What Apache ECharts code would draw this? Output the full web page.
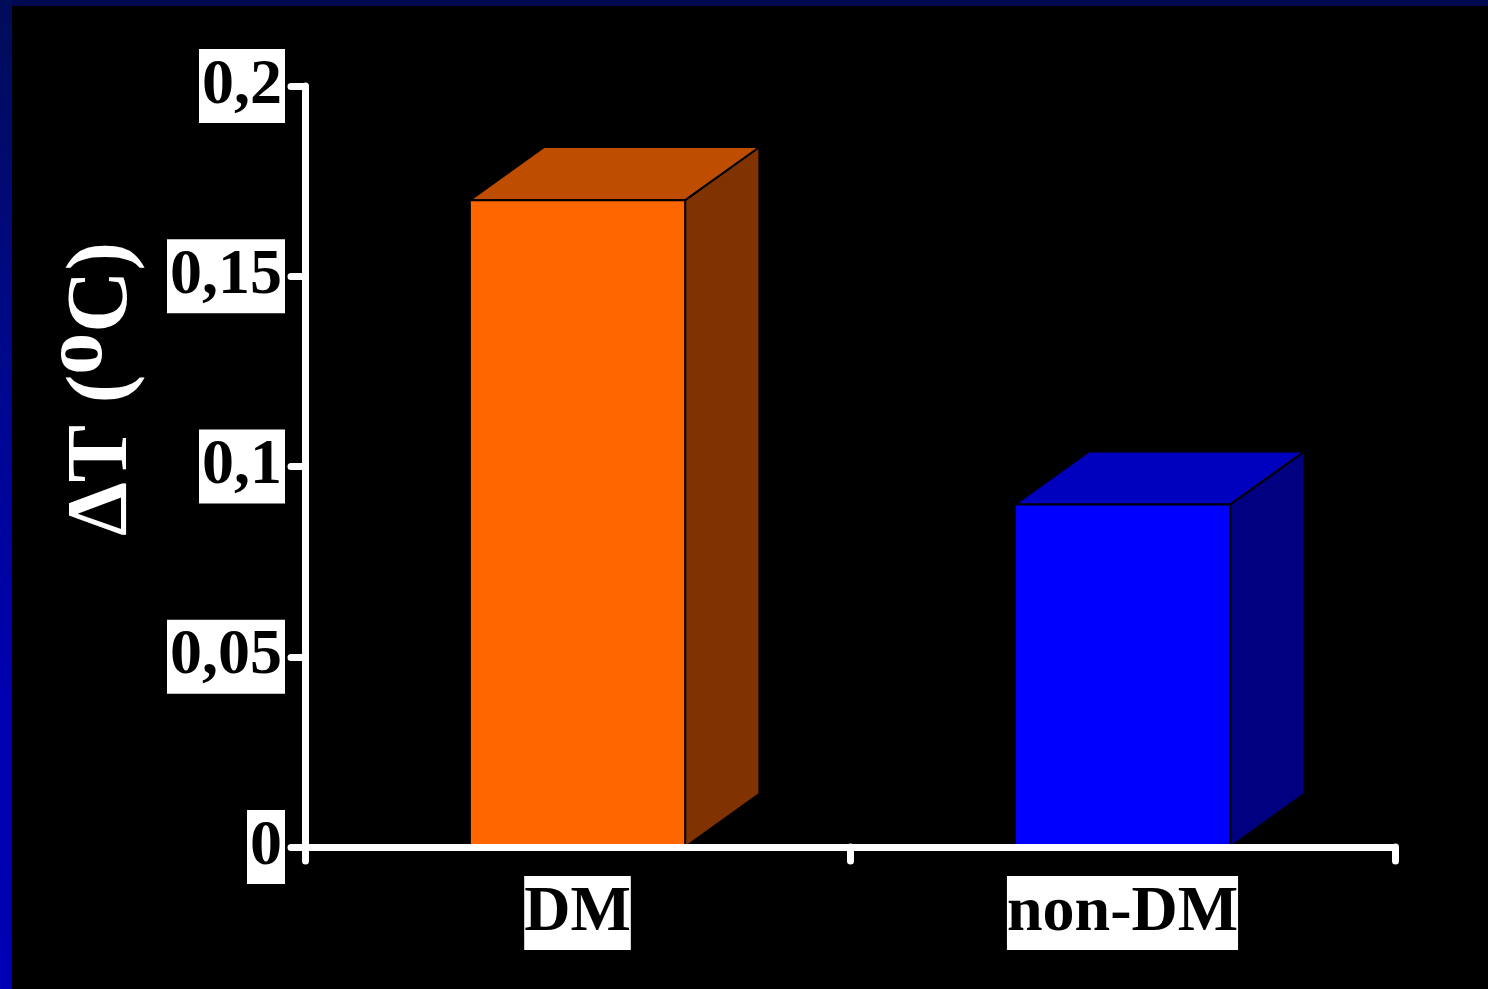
<!DOCTYPE html>
<html>
<head>
<meta charset="utf-8">
<script src="https://cdn.jsdelivr.net/npm/echarts@6/dist/echarts.min.js"></script>
<style>
  html, body { margin: 0; padding: 0; background: #000; }
  #frame { position: relative; width: 1488px; height: 989px; overflow: hidden; background: #000; }
  #topBand { position: absolute; left: 0; top: 0; width: 1488px; height: 6px; background: #00084f; }
  #leftBand { position: absolute; left: 0; top: 0; width: 12px; height: 989px;
              background: linear-gradient(to bottom, #000c58 0%, #00088a 35%, #0000b0 70%, #0000b4 100%); }
  #chart { position: absolute; left: 0; top: 0; width: 1488px; height: 989px; }
</style>
</head>
<body>
<div id="frame">
  <div id="topBand"></div>
  <div id="leftBand"></div>
  <div id="chart"></div>
</div>
<script>
// Temperature difference per group
const categories = ['DM', 'non-DM'];
const deltaT = [0.17, 0.09];
const yTickValues = [0, 0.05, 0.1, 0.15, 0.2];
const yTickLabels = ['0', '0,05', '0,1', '0,15', '0,2'];

// front / top / side shades for each box
const boxShades = [
  { front: '#ff6600', top: '#bf4d00', side: '#803300' },
  { front: '#0000ff', top: '#0000bf', side: '#000080' }
];

const chart = echarts.init(document.getElementById('chart'), null, { renderer: 'canvas' });

const serif = '"Liberation Serif", "Times New Roman", serif';

function renderBox(params, api) {
  const idx = api.value(0);
  const val = api.value(1);
  const topPt = api.coord([idx, val]);
  const basePt = api.coord([idx, 0]);
  const band = api.size([1, 0])[0];
  const w = band * 0.395;
  const dx = w * 0.345;
  const dy = -w * 0.247;
  const x0 = topPt[0] - w / 2;
  const x1 = topPt[0] + w / 2;
  const yT = topPt[1];
  const yB = basePt[1];
  const shade = boxShades[idx];
  const edge = { stroke: '#000', lineWidth: 2, lineJoin: 'round' };
  return {
    type: 'group',
    children: [
      {
        type: 'polygon',
        shape: { points: [[x1, yT], [x1 + dx, yT + dy], [x1 + dx, yB + dy], [x1, yB]] },
        style: Object.assign({ fill: shade.side }, edge)
      },
      {
        type: 'polygon',
        shape: { points: [[x0, yT], [x0 + dx, yT + dy], [x1 + dx, yT + dy], [x1, yT]] },
        style: Object.assign({ fill: shade.top }, edge)
      },
      {
        type: 'rect',
        shape: { x: x0, y: yT, width: w, height: yB - yT },
        style: Object.assign({ fill: shade.front }, edge)
      }
    ]
  };
}

const axisStroke = { color: '#fff', width: 7, cap: 'round' };

const option = {
  backgroundColor: 'transparent',
  animation: false,
  grid: { left: 305, right: 93, top: 86, bottom: 142, containLabel: false },
  xAxis: {
    type: 'category',
    data: categories,
    boundaryGap: true,
    axisLine: { show: true, onZero: false, lineStyle: axisStroke },
    axisTick: { show: true, length: 14, inside: false, lineStyle: axisStroke },
    axisLabel: {
      margin: 29,
      color: '#000',
      backgroundColor: '#fff',
      fontFamily: serif,
      fontWeight: 'bold',
      fontSize: 64,
      lineHeight: 74,
      padding: [0, 0]
    },
    splitLine: { show: false },
    z: 10
  },
  yAxis: {
    type: 'value',
    min: 0,
    max: 0.2,
    interval: 0.05,
    axisLine: { show: true, lineStyle: axisStroke },
    axisTick: { show: true, length: 14, inside: false, lineStyle: axisStroke },
    axisLabel: {
      margin: 20,
      color: '#000',
      backgroundColor: '#fff',
      fontFamily: serif,
      fontWeight: 'bold',
      fontSize: 64,
      lineHeight: 74,
      padding: [0, 3],
      formatter: function (v) {
        const i = yTickValues.findIndex(function (t) { return Math.abs(t - v) < 1e-9; });
        return i >= 0 ? yTickLabels[i] : String(v).replace('.', ',');
      }
    },
    splitLine: { show: false },
    z: 10
  },
  graphic: [
    {
      type: 'text',
      x: 104,
      y: 389,
      rotation: Math.PI / 2,
      style: {
        text: '{m|ΔT (}{s|o}{m|C)}',
        align: 'center',
        verticalAlign: 'middle',
        fill: '#fff',
        rich: {
          m: { fontFamily: serif, fontWeight: 'bold', fontSize: 86, lineHeight: 134, fill: '#fff' },
          s: { fontFamily: serif, fontWeight: 'bold', fontSize: 84, verticalAlign: 'top', fill: '#fff' }
        }
      }
    }
  ],
  series: [
    {
      type: 'custom',
      renderItem: renderBox,
      data: deltaT.map(function (v, i) { return [i, v]; }),
      encode: { x: 0, y: 1 },
      z: 2
    }
  ]
};

chart.setOption(option);
</script>
</body>
</html>
